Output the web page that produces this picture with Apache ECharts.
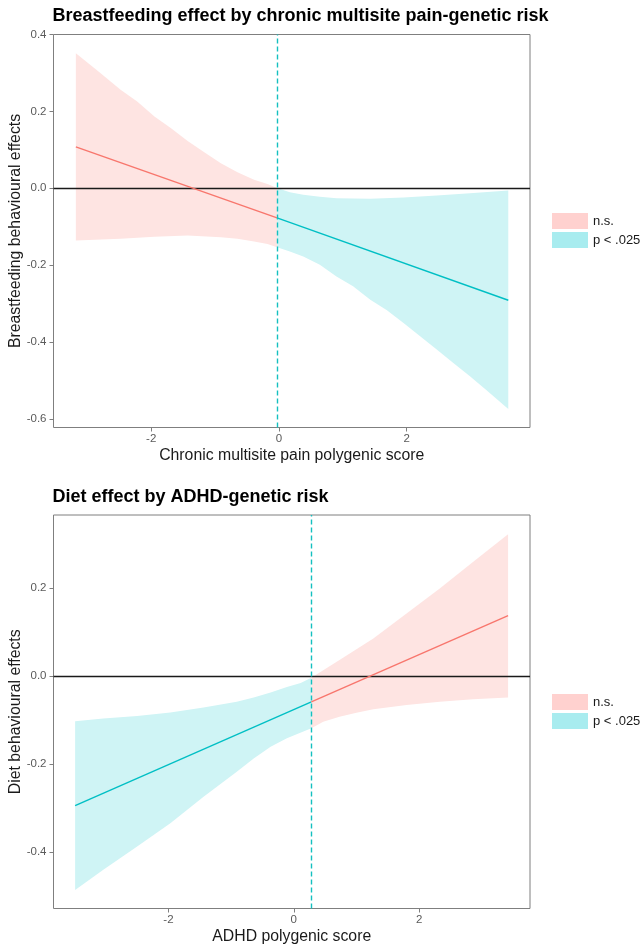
<!DOCTYPE html>
<html>
<head>
<meta charset="utf-8">
<script src="https://cdn.jsdelivr.net/npm/echarts@6/dist/echarts.min.js"></script>
<style>
html,body{margin:0;padding:0;background:#fff;}
#chart{width:644px;height:945px;}
</style>
</head>
<body>
<div id="chart"></div>
<script>
// ---------- Data ----------
// Top panel: Breastfeeding effect by chronic multisite pain polygenic score
const topSplitX = -0.03;
const topPinkUpper = [[-3.18,0.351],[-2.84,0.306],[-2.48,0.256],[-2.22,0.226],[-1.95,0.187],[-1.69,0.156],[-1.43,0.123],[-1.17,0.094],[-0.91,0.065],[-0.65,0.042],[-0.39,0.022],[-0.18,0.011],[-0.03,0.001]];
const topPinkLower = [[-3.18,-0.136],[-2.48,-0.131],[-1.95,-0.126],[-1.43,-0.123],[-0.91,-0.127],[-0.65,-0.131],[-0.39,-0.138],[-0.18,-0.145],[-0.03,-0.153]];
const topCyanUpper = [[-0.03,0.001],[0.17,-0.010],[0.38,-0.017],[0.64,-0.022],[0.90,-0.026],[1.43,-0.027],[1.95,-0.024],[2.47,-0.019],[2.99,-0.013],[3.59,-0.006]];
const topCyanLower = [[-0.03,-0.153],[0.17,-0.164],[0.38,-0.177],[0.64,-0.199],[0.90,-0.229],[1.16,-0.255],[1.43,-0.290],[1.69,-0.317],[1.95,-0.350],[2.21,-0.385],[2.47,-0.419],[2.73,-0.454],[2.99,-0.489],[3.25,-0.525],[3.59,-0.574]];
const topPinkLine = [[-3.18,0.108],[-0.03,-0.077]];
const topCyanLine = [[-0.03,-0.077],[3.59,-0.291]];
const topXTicks = [-2,0,2];
const topYTicks = [-0.6,-0.4,-0.2,0,0.2,0.4];

// Bottom panel: Diet effect by ADHD polygenic score
const botSplitX = 0.28;
const botCyanUpper = [[-3.49,-0.103],[-3.04,-0.097],[-2.50,-0.091],[-1.97,-0.083],[-1.44,-0.072],[-0.91,-0.059],[-0.64,-0.049],[-0.37,-0.038],[-0.11,-0.025],[0.11,-0.016],[0.28,-0.004]];
const botCyanLower = [[-3.49,-0.487],[-3.04,-0.441],[-2.50,-0.388],[-1.97,-0.335],[-1.44,-0.275],[-0.91,-0.218],[-0.64,-0.188],[-0.37,-0.161],[-0.11,-0.142],[0.28,-0.119]];
const botPinkUpper = [[0.28,-0.004],[0.73,0.036],[1.27,0.085],[1.80,0.142],[2.33,0.199],[2.86,0.259],[3.42,0.322]];
const botPinkLower = [[0.28,-0.119],[0.47,-0.104],[0.73,-0.093],[1.00,-0.084],[1.27,-0.076],[1.80,-0.066],[2.33,-0.059],[2.86,-0.053],[3.42,-0.049]];
const botCyanLine = [[-3.49,-0.295],[0.28,-0.059]];
const botPinkLine = [[0.28,-0.059],[3.42,0.137]];
const botXTicks = [-2,0,2];
const botYTicks = [-0.4,-0.2,0,0.2];

const legendNames = ['n.s.', 'p < .025'];
const titles = ['Breastfeeding effect by chronic multisite pain-genetic risk', 'Diet effect by ADHD-genetic risk'];
const xNames = ['Chronic multisite pain polygenic score', 'ADHD polygenic score'];
const yNames = ['Breastfeeding behavioural effects', 'Diet behavioural effects'];

// ---------- Styles ----------
const FONT = 'Liberation Sans, Arial, sans-serif';
const PINK = '#F8766D', CYAN = '#00BFC4';
const PINK_BAND = '#FEE4E2', CYAN_BAND = '#CFF4F5';
const PINK_KEY = '#FFD1CF', CYAN_KEY = '#A8ECEF';

function bandRender(upper, lower, fill) {
  return function (params, api) {
    if (params.dataIndex !== 0) return null;
    const pts = upper.map(p => api.coord(p)).concat(lower.slice().reverse().map(p => api.coord(p)));
    return { type: 'polygon', shape: { points: pts }, style: { fill: fill } };
  };
}

function bandSeries(name, idx, upper, lower, fill, color) {
  return {
    type: 'custom', name: name, xAxisIndex: idx, yAxisIndex: idx,
    renderItem: bandRender(upper, lower, fill),
    data: upper.concat(lower), encode: { x: 0, y: 1 },
    itemStyle: { color: color }, z: 1, silent: true
  };
}

function lineSeries(idx, data, color, markLine) {
  const s = {
    type: 'line', xAxisIndex: idx, yAxisIndex: idx, data: data,
    showSymbol: false, symbol: 'none', lineStyle: { color: color, width: 1.4 },
    z: 3, silent: true
  };
  if (markLine) s.markLine = markLine;
  return s;
}

const zeroLine = {
  silent: true, symbol: ['none', 'none'], label: { show: false },
  lineStyle: { color: '#1a1a1a', width: 1.3, type: 'solid' },
  data: [{ yAxis: 0 }], z: 2
};
function vLine(x) {
  return {
    silent: true, symbol: ['none', 'none'], label: { show: false },
    lineStyle: { color: '#14C0C0', width: 1.4, type: [5, 3] },
    data: [{ xAxis: x }], z: 4
  };
}

function xAxis(idx, min, max, ticks) {
  return {
    type: 'value', gridIndex: idx, min: min, max: max,
    name: xNames[idx], nameLocation: 'middle', nameGap: 20,
    nameTextStyle: { fontSize: 15.8, color: '#1a1a1a', fontFamily: FONT },
    axisLine: { show: false, onZero: false },
    axisTick: { show: true, length: 4, lineStyle: { color: '#7f7f7f' }, customValues: ticks },
    axisLabel: { show: true, fontSize: 11.5, color: '#5a5a5a', fontFamily: FONT, margin: 5, customValues: ticks,
                 formatter: v => String(v) },
    splitLine: { show: false }
  };
}
function yAxis(idx, min, max, ticks) {
  return {
    type: 'value', gridIndex: idx, min: min, max: max,
    name: yNames[idx], nameLocation: 'middle', nameGap: 30, nameRotate: 90, nameMoveOverlap: false,
    nameTextStyle: { fontSize: 15.8, color: '#1a1a1a', fontFamily: FONT },
    axisLine: { show: false, onZero: false },
    axisTick: { show: true, length: 4, lineStyle: { color: '#7f7f7f' }, customValues: ticks },
    axisLabel: { show: true, fontSize: 11.5, color: '#5a5a5a', fontFamily: FONT, margin: 7, customValues: ticks,
                 formatter: v => (Math.abs(v) < 1e-9 ? '0.0' : v.toFixed(1)) },
    splitLine: { show: false }
  };
}

function legend(top) {
  return {
    orient: 'vertical', left: 552, top: top, padding: 0,
    itemWidth: 36, itemHeight: 16, itemGap: 3, icon: 'rect', selectedMode: false,
    data: [
      { name: legendNames[0], itemStyle: { color: PINK_KEY } },
      { name: legendNames[1], itemStyle: { color: CYAN_KEY } }
    ],
    textStyle: { fontSize: 13, color: '#1a1a1a', fontFamily: FONT }
  };
}

const option = {
  animation: false,
  backgroundColor: '#ffffff',
  title: [
    { text: titles[0], left: 52.5, top: 7, padding: 0,
      textStyle: { fontSize: 18, fontWeight: 'bold', color: '#000', fontFamily: FONT } },
    { text: titles[1], left: 52.5, top: 488, padding: 0,
      textStyle: { fontSize: 18, fontWeight: 'bold', color: '#000', fontFamily: FONT } }
  ],
  legend: [legend(213), legend(694)],
  grid: [
    { left: 53.5, right: 114, top: 34.5, height: 393, show: true, borderColor: '#7f7f7f', borderWidth: 1,
      backgroundColor: 'transparent', containLabel: false, outerBoundsMode: 'none' },
    { left: 53.5, right: 114, top: 515, height: 393.5, show: true, borderColor: '#7f7f7f', borderWidth: 1,
      backgroundColor: 'transparent', containLabel: false, outerBoundsMode: 'none' }
  ],
  xAxis: [xAxis(0, -3.53, 3.93, topXTicks), xAxis(1, -3.835, 3.77, botXTicks)],
  yAxis: [yAxis(0, -0.622, 0.4, topYTicks), yAxis(1, -0.529, 0.366, botYTicks)],
  series: [
    bandSeries(legendNames[0], 0, topPinkUpper, topPinkLower, PINK_BAND, PINK_KEY),
    bandSeries(legendNames[1], 0, topCyanUpper, topCyanLower, CYAN_BAND, CYAN_KEY),
    lineSeries(0, topPinkLine, PINK, zeroLine),
    lineSeries(0, topCyanLine, CYAN, vLine(topSplitX)),
    bandSeries(legendNames[1], 1, botCyanUpper, botCyanLower, CYAN_BAND, CYAN_KEY),
    bandSeries(legendNames[0], 1, botPinkUpper, botPinkLower, PINK_BAND, PINK_KEY),
    lineSeries(1, botCyanLine, CYAN, zeroLine),
    lineSeries(1, botPinkLine, PINK, vLine(botSplitX))
  ]
};

const chart = echarts.init(document.getElementById('chart'), null, { renderer: 'canvas' });
chart.setOption(option);
</script>
</body>
</html>
